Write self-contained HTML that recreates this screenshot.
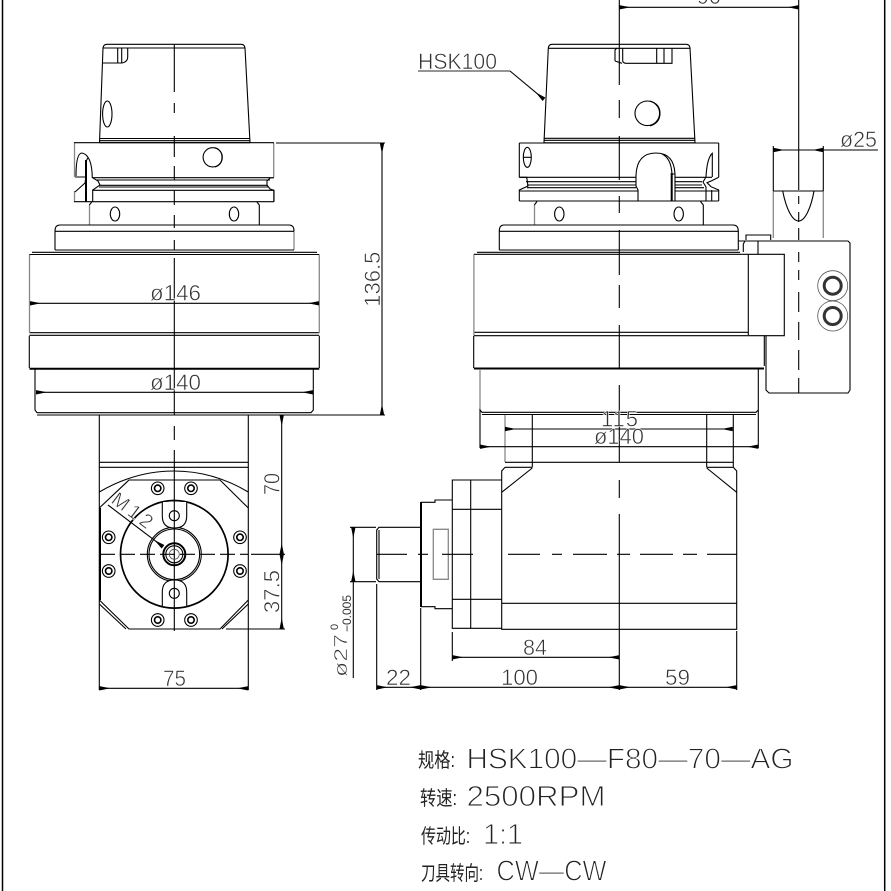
<!DOCTYPE html>
<html><head><meta charset="utf-8"><style>
html,body{margin:0;padding:0;background:#fff}
svg{display:block}
.l{fill:none;stroke:#000;stroke-width:1.1}
.t{fill:none;stroke:#000;stroke-width:2}
.g{fill:none;stroke:#888;stroke-width:1.3}
.f{fill:none;stroke:#555;stroke-width:.8}
text{font-family:"Liberation Sans","Noto Sans CJK SC",sans-serif;font-weight:400;fill:#333}
.d{font-size:22px;stroke:#fff;stroke-width:.55}
.c{font-size:20px;fill:#222}
.b{font-size:29px;fill:#222;stroke:#fff;stroke-width:1}
</style></head><body>
<svg width="891" height="891" viewBox="0 0 891 891" xmlns="http://www.w3.org/2000/svg">
<defs>
<marker id="a" markerUnits="userSpaceOnUse" markerWidth="12" markerHeight="6" refX="11" refY="3" orient="auto-start-reverse"><path d="M0,3 L11,0.8 V5.2Z" fill="#000"/></marker>
</defs>
<rect width="891" height="891" fill="#fff"/>
<path class="t" d="M2.5,0V891M884.7,0V891" style="stroke-width:1.5"/>

<!-- LEFT VIEW -->
<path class="l" d="M99.5,142.7 L103,48 Q103.5,44.3 107,44.3 H241 Q244.5,44.3 245,48 L250,142.7"/>
<path class="l" d="M103,48H245M99.6,138.5H250M99.5,140.7H250M99.5,142.7H250" />
<path class="l" d="M103,63H122Q127.7,62 127.7,57V48M117.7,48V63M121.7,48V63"/>
<ellipse class="l" cx="107.3" cy="114" rx="4.7" ry="13"/>
<circle class="l" cx="212.7" cy="157.3" r="9.6"/>
<path class="l" d="M215,147.7Q222,150 222,157.3Q222,165 215,167"/>
<path class="g" d="M74.5,143V177M74.5,191V201.7M273.7,143V177M273.7,191V201.7"/>
<path class="l" d="M74,142.7H274M74,201.7H274"/>
<path class="l" d="M76,176Q76,153 82,153Q92,155 92.3,178M86,178Q85,160 88,158"/>
<path class="l" d="M75,177H86L85,183L75,192"/>
<path class="t" d="M86,160V201.7"/>
<path class="l" d="M92.5,177.7H274L270,178L267,181V185L270,189L274,190.3V201.7"/>
<path class="l" d="M92.5,177.7L98,181L100,185L92.7,190V201.7M97,180H270M99,185.3H267M99,187H268M92.7,190.3H274"/>
<path class="g" d="M89.5,205V225"/>
<path class="l" d="M92,201.7L89.3,205M256.7,201.7L259.3,205V225"/>
<ellipse class="l" cx="115" cy="214" rx="4.7" ry="7"/><ellipse class="l" cx="234" cy="214" rx="4.7" ry="7"/>
<path class="l" d="M55,231V250M55,231Q55,225 60,225H289Q294,225 294,231"/><path class="g" d="M294,231V250"/>
<path class="l" d="M55,231.3H294M55,250H294"/>
<path class="l" d="M32,252.3H317M29.3,254.5H319.3M29.3,332.7H319.3M29.3,335.3H319.3"/>
<path class="g" d="M29.5,255V333M319.3,255V333"/>
<path class="l" d="M29.3,336V368M319.3,336V368M35,369V410L37,412.7H311L313.3,410V369"/>
<path class="t" d="M29.5,368.7H319.3"/>
<path class="l" d="M37,415H385"/>
<path class="l" d="M99.3,415V690M248.3,415V690M99.3,462.3H248.3M99.3,467.3H248.3"/>

<!-- axis left -->
<path class="l" d="M174.3,44V92M174.3,103V113M174.3,136V157M174.3,166V180M174.3,190V205M174.3,215V228M174.3,240V250M174.3,258V415M174.3,426V440M174.3,450V631"/>
<path class="l" d="M100,554.3H248" stroke-dasharray="15 5"/>
<path class="l" d="M251,554.3H285"/>

<!-- head view -->
<path class="l" d="M99.3,492Q135,471 174,471T248.3,492M99.3,508L129,480H220L248.3,508M99.3,600L129,629H220L248.3,600M99.3,604L126,629M248.3,604L222,629"/>
<path class="t" d="M100,508V600"/>
<circle class="t" cx="174.3" cy="554.3" r="53.8" style="stroke-width:1.7"/>
<circle class="l" cx="174.3" cy="554.3" r="27"/><circle class="l" cx="174.3" cy="554.3" r="25.3"/>
<circle class="t" cx="174.3" cy="554.3" r="11"/><circle class="l" cx="174.3" cy="554.3" r="8.5"/><circle class="f" cx="174.3" cy="554.3" r="5"/>
<path d="M162.3,502V516Q162.3,528 174.3,528Q186.7,528 186.7,516V502" fill="#fff" stroke="#000" stroke-width="1.1"/>
<path d="M162.3,606V592Q162.3,580 174.3,580Q186.7,580 186.7,592V606" fill="#fff" stroke="#000" stroke-width="1.1"/>
<circle class="l" cx="174.3" cy="515.7" r="5"/><circle class="l" cx="174.3" cy="593.3" r="5"/>
<path class="l" d="M174.3,502V528M174.3,580V606"/>
<g class="l">
<circle cx="157.7" cy="488.3" r="6.3"/><circle cx="157.7" cy="488.3" r="3.2" stroke-width="1.6"/>
<circle cx="191" cy="488.3" r="6.3"/><circle cx="191" cy="488.3" r="3.2" stroke-width="1.6"/>
<circle cx="108.7" cy="537.3" r="6.3"/><circle cx="108.7" cy="537.3" r="3.2" stroke-width="1.6"/>
<circle cx="108.7" cy="571" r="6.3"/><circle cx="108.7" cy="571" r="3.2" stroke-width="1.6"/>
<circle cx="240" cy="537.3" r="6.3"/><circle cx="240" cy="537.3" r="3.2" stroke-width="1.6"/>
<circle cx="240" cy="571" r="6.3"/><circle cx="240" cy="571" r="3.2" stroke-width="1.6"/>
<circle cx="157.7" cy="620" r="6.3"/><circle cx="157.7" cy="620" r="3.2" stroke-width="1.6"/>
<circle cx="191" cy="620" r="6.3"/><circle cx="191" cy="620" r="3.2" stroke-width="1.6"/>
</g>
<path class="l" d="M108,505L163,546.7" marker-end="url(#a)"/>
<text class="d" transform="translate(110,502) rotate(37)" textLength="46" style="font-size:20px" lengthAdjust="spacing">M12</text>

<!-- left dims -->
<path class="l" d="M30,303.3H319" marker-start="url(#a)" marker-end="url(#a)"/>
<path class="l" d="M36,392.3H313" marker-start="url(#a)" marker-end="url(#a)"/>
<text class="d" x="150" y="300.7" textLength="51" lengthAdjust="spacingAndGlyphs">ø146</text>
<text class="d" x="150" y="390" textLength="51" lengthAdjust="spacingAndGlyphs">ø140</text>
<path class="l" d="M276,143H385"/>
<path class="l" d="M382,143V415" marker-start="url(#a)" marker-end="url(#a)"/>
<text class="d" transform="translate(380,306.7) rotate(-90)" textLength="55" lengthAdjust="spacingAndGlyphs">136.5</text>
<path class="l" d="M281.7,415V554.3" marker-start="url(#a)" marker-end="url(#a)"/>
<path class="l" d="M281.7,554.3V629" marker-start="url(#a)" marker-end="url(#a)"/>
<path class="l" d="M226,629H285"/>
<text class="d" transform="translate(279.3,495) rotate(-90)" textLength="22" lengthAdjust="spacingAndGlyphs">70</text>
<text class="d" transform="translate(279.3,613) rotate(-90)" textLength="43" lengthAdjust="spacingAndGlyphs">37.5</text>
<path class="l" d="M99.3,688.3H248.3" marker-start="url(#a)" marker-end="url(#a)"/>
<text class="d" x="163" y="686" textLength="23" lengthAdjust="spacingAndGlyphs">75</text>

<!-- RIGHT VIEW upper -->
<path class="l" d="M544,142.7L548.3,48Q548.8,44.3 552,44.3H686Q689.6,44.3 690,48L695,142.7"/>
<path class="l" d="M548.3,48.3H690M543.8,138.3H695M543.7,140.3H695M543.5,142.8H695"/>
<path class="l" d="M615,61V50L617,48M622.7,48V61Q623,63 626,63.3H672V48M656.7,48V63M664,48V63M615,61L622,63.3"/>
<circle class="l" cx="647.3" cy="113.3" r="12.3"/><path class="l" d="M650,101Q660,104 660,113.3Q660,123 650,126"/>
<path class="l" d="M519.3,143V177.3M718.7,143V177.3M519.3,143H718.7M519.3,201H718.7"/>
<ellipse class="l" cx="527.3" cy="157.3" rx="4" ry="10"/><path class="l" d="M523.3,157.3H531.3"/>
<path class="l" d="M519.3,177.3H526.7L528,186L519.3,190V201M526,181.7H636M527,185H636M527,187.7H636M519.3,191H638"/>
<path class="l" d="M519.3,177.3H636"/>
<path class="l" d="M638,201V190L636,186V175Q637,153 656,153Q674,153 675,174"/>
<path class="l" d="M662,154Q671,158 672,174"/>
<path class="t" d="M671.7,173V201"/>
<path class="l" d="M671.7,174H675V178M675,178V201M675,177.3H712M675,181.7H702M675,185H702M675,187.7H704M675,191H718.7"/>
<path class="l" d="M718.7,177.3L711.7,180.7L707,182.7L711,186.7L718.7,190V201M706,177L703,182L706,187V201M711.7,190V201"/>
<path class="l" d="M706,177Q707,158 712.3,153.3V177"/>
<path class="g" d="M534.5,205V225"/><path class="l" d="M537,201.5L534.3,205M700.5,201.5L703.3,205V225"/>
<ellipse class="l" cx="559.3" cy="214" rx="4.7" ry="7"/><ellipse class="l" cx="678.7" cy="214" rx="4.7" ry="7"/>
<path class="l" d="M499.3,231V250M499.3,231Q499.3,225 504,225H733Q738.3,225 738.3,231V250"/>
<path class="l" d="M499.3,231.3H738.3M499.3,250H738.3"/>
<path class="l" d="M477,252.3H740M473.7,254.3H784.3V335.7H473.7M748.3,254V335M473.7,332.3H748.3"/>
<path class="g" d="M473.9,255V335"/>
<path class="l" d="M473.7,336V368M764.3,336V366"/>
<path class="t" d="M473.9,368.5H764"/>
<path class="g" d="M480,369V410"/>
<path class="l" d="M758.3,369V410L756,412.3H482L480,410V448M758.3,410V448M482,414.5H756"/>

<!-- tool block -->
<path class="l" d="M738,241H758M743.3,252V244L745,241M758,241V254M758,241H848L850,243V390L848,393H769L766,390V336M746,240V235H770.7V240"/>
<path class="g" d="M773.3,191V238M823.3,191V238"/>
<path class="l" d="M773.3,191H823.3M782.7,191C786,208 792,221 798.7,221C805,221 811,208 814,191"/>
<path class="l" d="M773.3,146V191M823.3,146V191"/>
<circle class="f" cx="832.7" cy="285.7" r="15"/><circle cx="832.7" cy="285.7" r="8.5" fill="none" stroke="#333" stroke-width="3"/>
<circle class="f" cx="832.7" cy="316" r="15"/><circle cx="832.7" cy="316" r="8.5" fill="none" stroke="#333" stroke-width="3"/>
<path class="l" d="M798.7,0V190M798.7,196V204M798.7,212V222M798.7,228V240M798.7,252V262M798.7,270V280M798.7,292V312M798.7,322V340M798.7,350V370M798.7,378V393"/>

<!-- axis right -->
<path class="l" d="M619.3,0V85M619.3,100V118M619.3,136V180M619.3,196V213M619.3,230V275M619.3,285V308M619.3,325V368M619.3,385V462M619.3,480V498M619.3,514V690"/>

<!-- right dims -->
<path class="l" d="M619.3,7.3H798.7" marker-start="url(#a)" marker-end="url(#a)"/>
<text class="d" x="697" y="4" textLength="24" lengthAdjust="spacingAndGlyphs">90</text>
<path class="l" d="M773.3,150H878" />
<path class="l" d="M773.3,150H823.3" marker-start="url(#a)" marker-end="url(#a)"/>
<text class="d" x="840" y="147" textLength="37" lengthAdjust="spacingAndGlyphs">ø25</text>
<path class="g" d="M418,71H510" style="stroke:#555;stroke-width:1.2"/>
<path class="l" d="M510,71L544,99.3" marker-end="url(#a)"/>
<text class="d" x="418" y="69" textLength="79" lengthAdjust="spacingAndGlyphs">HSK100</text>

<!-- right lower -->
<path class="g" d="M505,415V462"/>
<path class="l" d="M532.3,415V467.3M706.7,415V467.3M733.3,415V467M505,462.3H733.3M505,467.3H532.3M706.7,467.3H733.3"/>
<path class="l" d="M505,467.3L501.7,471V629.3H736.7V471L733.3,467.3M532.3,468L501.7,492.3M706.7,468L736.7,492.3M501.7,603.3H736.7"/>
<path class="l" d="M501.7,480H452.3V628.3H501.7M470.7,480V628.3M452.3,509.3H501.7M452.3,599.3H501.7"/>
<path class="l" d="M421,502.3H435V500H452"/>
<path class="l" d="M421,606.7H435V608.7H452"/>
<path class="t" d="M421,502V607"/>
<path class="g" d="M433.3,529.3H448.3V579.3H433.3Z"/>
<path class="l" d="M420.7,527.3H379L376.7,530V579L379,581.7H420.7M379,530V579"/>
<path class="l" d="M376.7,554.3H407M418,554.3H428M442,554.3H473M508,554.3H540M552,554.3H562M573,554.3H607M617,554.3H630M640,554.3H673M683,554.3H697M707,554.3H737"/>

<path class="l" d="M505,429H732.7" marker-start="url(#a)" marker-end="url(#a)"/>
<path class="l" d="M480,446.7H758.3" marker-start="url(#a)" marker-end="url(#a)"/>
<text class="d" x="601" y="426.7" textLength="37" lengthAdjust="spacing">115</text>
<text class="d" x="594" y="444" textLength="50" lengthAdjust="spacingAndGlyphs">ø140</text>

<path class="l" d="M350,527.3H376M350,581.7H376M353.3,581.7V678"/>
<path class="l" d="M353.3,527.3V581.7" marker-start="url(#a)" marker-end="url(#a)"/>
<text class="d" transform="translate(347,677) rotate(-90)" textLength="43" lengthAdjust="spacingAndGlyphs" style="font-size:18px">ø27</text>
<text transform="translate(338,630) rotate(-90)" style="font-size:11px">0</text>
<text transform="translate(351,632) rotate(-90)" textLength="37" lengthAdjust="spacingAndGlyphs" style="font-size:12px">−0.005</text>

<path class="l" d="M452.3,632V661M376.7,584V690M420.7,608V690M736.7,631V690"/>
<path class="l" d="M452.3,657.3H619.3" marker-start="url(#a)" marker-end="url(#a)"/>
<path class="l" d="M376.7,687.3H420.7" marker-start="url(#a)" marker-end="url(#a)"/>
<path class="l" d="M420.7,687.3H619.3" marker-start="url(#a)" marker-end="url(#a)"/>
<path class="l" d="M619.3,687.3H736.7" marker-start="url(#a)" marker-end="url(#a)"/>
<text class="d" x="523" y="655" textLength="24" lengthAdjust="spacingAndGlyphs">84</text>
<text class="d" x="386" y="685" textLength="25" lengthAdjust="spacingAndGlyphs">22</text>
<text class="d" x="501" y="685" textLength="37" lengthAdjust="spacingAndGlyphs">100</text>
<text class="d" x="665" y="685" textLength="25" lengthAdjust="spacingAndGlyphs">59</text>

<!-- spec -->
<text class="c" x="418" y="767" textLength="37" lengthAdjust="spacingAndGlyphs">规格:</text>
<text class="b" x="466.5" y="768.3" textLength="327" lengthAdjust="spacingAndGlyphs">HSK100—F80—70—AG</text>
<text class="c" x="420" y="805" textLength="37" lengthAdjust="spacingAndGlyphs">转速:</text>
<text class="b" x="466.5" y="806" textLength="139" lengthAdjust="spacingAndGlyphs">2500RPM</text>
<text class="c" x="421" y="843" textLength="49" lengthAdjust="spacingAndGlyphs">传动比:</text>
<text class="b" x="483" y="844" textLength="40" lengthAdjust="spacing">1:1</text>
<text class="c" x="421" y="880" textLength="62" lengthAdjust="spacingAndGlyphs">刀具转向:</text>
<text class="b" x="496.5" y="880.7" textLength="110" lengthAdjust="spacingAndGlyphs">CW—CW</text>
</svg>
</body></html>
